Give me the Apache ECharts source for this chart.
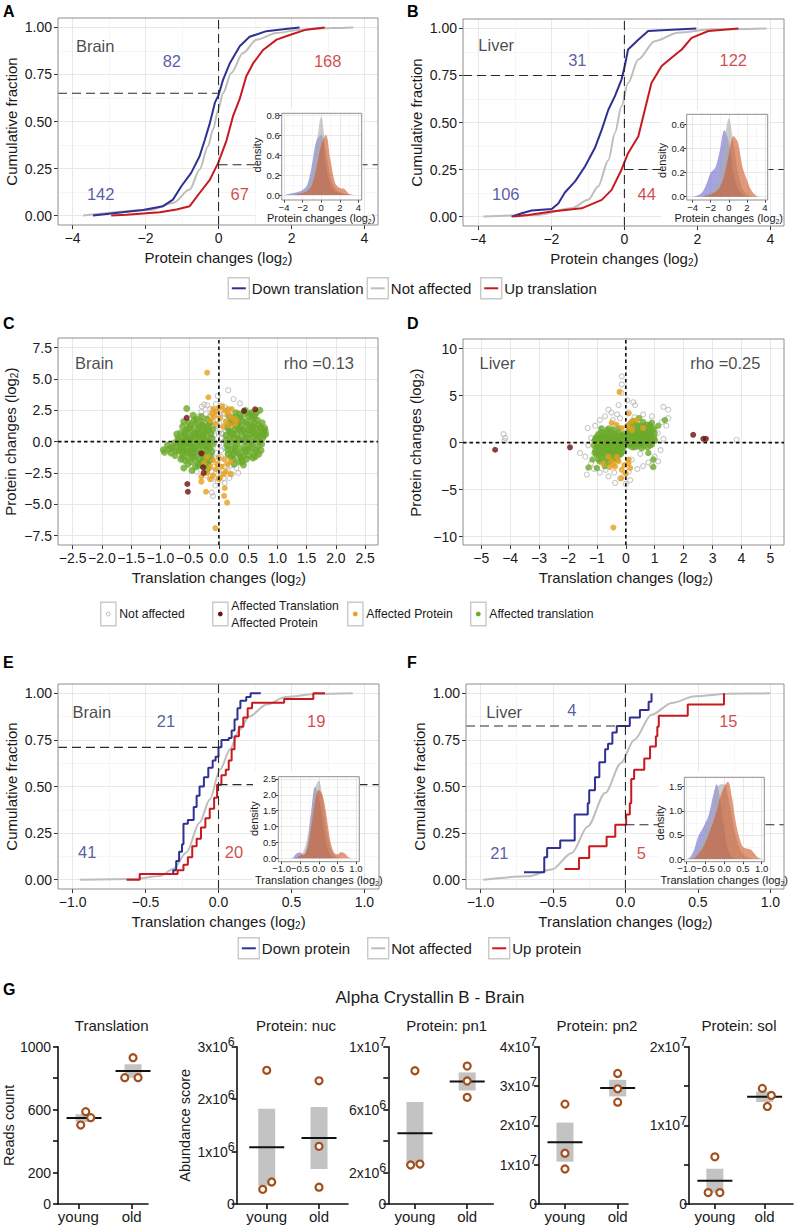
<!DOCTYPE html>
<html><head><meta charset="utf-8">
<script src="https://cdn.jsdelivr.net/npm/echarts@6/dist/echarts.min.js"></script>
<style>html,body{margin:0;padding:0;background:#fff}#c{width:794px;height:1227px}</style>
</head><body><div id="c"></div><script>
// ======================= DATA =======================
// Panel A (Brain) : cumulative fraction of protein changes (log2), [x, fraction]
const aDownTranslation = [[-3.44,0],[-2.07,0.03],[-1.52,0.05],[-1.25,0.085],[-1.02,0.156],[-0.75,0.227],[-0.52,0.315],[-0.38,0.40],[-0.24,0.49],[-0.10,0.60],[0.0,0.64],[0.12,0.72],[0.31,0.81],[0.58,0.90],[0.85,0.95],[1.31,0.98],[1.77,0.99],[2.22,1.0]];
const aNotAffected = [[-3.71,0],[-1.88,0.03],[-1.25,0.067],[-0.79,0.138],[-0.52,0.244],[-0.29,0.368],[-0.15,0.457],[-0.01,0.563],[0.12,0.65],[0.35,0.758],[0.67,0.864],[1.04,0.935],[1.59,0.97],[2.22,0.988],[3.14,0.997],[3.69,1.0]];
const aUpTranslation = [[-2.94,0],[-2.52,0.005],[-1.61,0.018],[-1.15,0.032],[-0.79,0.05],[-0.52,0.12],[-0.24,0.19],[-0.01,0.28],[0.22,0.40],[0.40,0.53],[0.58,0.62],[0.76,0.74],[0.95,0.81],[1.22,0.88],[1.59,0.935],[1.95,0.96],[2.40,0.988],[2.91,1.0]];
const aCounts = [142, 82, 67, 168];          // down<0, down>0, up<0, up>0
const aFractionAtZero = [0.65, 0.27];        // down, up
const aDensityDown = [[-4,0],[-3.5,0.01],[-3,0.02],[-2.5,0.03],[-2,0.05],[-1.5,0.1],[-1,0.3],[-0.5,0.55],[0,0.6],[0.5,0.3],[1,0.1],[1.5,0.04],[2,0.02],[2.5,0.01],[3,0]];
const aDensityNot = [[-3.7,0],[-3,0.005],[-2.5,0.01],[-2,0.03],[-1.5,0.07],[-1,0.2],[-0.5,0.5],[0,0.78],[0.5,0.45],[1,0.18],[1.5,0.07],[2,0.03],[2.5,0.01],[3,0.005],[3.7,0]];
const aDensityUp = [[-3,0],[-2.5,0.01],[-2,0.02],[-1.5,0.04],[-1,0.1],[-0.5,0.28],[0,0.5],[0.5,0.6],[1,0.35],[1.5,0.12],[2,0.07],[2.5,0.06],[3,0.01],[3.5,0]];

// Panel B (Liver)
const bDownTranslation = [[-3.09,0],[-2.81,0.018],[-2.54,0.032],[-1.99,0.04],[-1.81,0.07],[-1.63,0.128],[-1.35,0.187],[-1.08,0.266],[-0.81,0.364],[-0.62,0.462],[-0.44,0.568],[-0.26,0.64],[-0.08,0.728],[0.01,0.80],[0.10,0.888],[0.38,0.94],[0.65,0.986],[1.02,0.99],[1.97,1.0]];
const bNotAffected = [[-3.86,0],[-2.36,0.009],[-1.45,0.044],[-0.99,0.089],[-0.72,0.16],[-0.44,0.30],[-0.26,0.444],[-0.08,0.586],[0.10,0.71],[0.38,0.835],[0.83,0.932],[1.47,0.977],[2.39,0.995],[3.89,1.0]];
const bUpTranslation = [[-3.04,0],[-2.63,0.009],[-1.99,0.027],[-1.17,0.044],[-0.62,0.089],[-0.35,0.142],[-0.08,0.249],[0.10,0.337],[0.38,0.426],[0.56,0.568],[0.74,0.71],[1.02,0.80],[1.29,0.844],[1.57,0.888],[1.84,0.95],[2.30,0.986],[3.12,1.0]];
const bCounts = [106, 31, 44, 122];
const bFractionAtZero = [0.75, 0.25];
const bDensityDown = [[-4,0],[-3.5,0.01],[-3,0.03],[-2.5,0.1],[-2,0.2],[-1.5,0.24],[-1,0.38],[-0.5,0.55],[0,0.45],[0.5,0.2],[1,0.07],[1.5,0.02],[2,0]];
const bDensityNot = [[-3,0],[-2.5,0.01],[-2,0.03],[-1.5,0.08],[-1,0.2],[-0.5,0.45],[0,0.65],[0.5,0.45],[1,0.2],[1.5,0.07],[2,0.02],[2.5,0.005],[3,0]];
const bDensityUp = [[-3,0],[-2.5,0.01],[-2,0.02],[-1.5,0.04],[-1,0.08],[-0.5,0.18],[0,0.35],[0.5,0.5],[1,0.45],[1.5,0.25],[2,0.14],[2.5,0.05],[3,0.01],[3.5,0],[4,0]];

// Panel C (Brain) : [translation change, protein change]
const cNotAffected = [[-0.02,3.64],[0.16,4.1],[0.25,3.4],[0.36,3.05],[-0.29,2.8],[-0.43,1.73],[-0.12,-4.07],[-0.1,-4.35],[0.62,-0.66],[0.66,-0.85],[-0.25,2.95],[-0.2,2.9],[-0.15,2.6],[-0.05,3.0],[0.05,2.9],[0.1,2.75],[0.2,2.5],[-0.3,2.4],[-0.35,2.0],[-0.22,2.2],[-0.1,2.3],[0.0,2.2],[0.15,2.1],[0.28,2.0],[0.35,1.6],[-0.28,1.5],[-0.18,1.7],[-0.05,1.8],[0.08,1.6],[0.22,1.4],[-0.12,1.2],[0.02,1.0],[0.12,0.8],[-0.2,0.9],[-0.08,0.5],[0.05,0.3],[0.18,0.2],[-0.15,0.0],[0.0,-0.2],[0.1,-0.5],[-0.22,-0.6],[-0.05,-0.9],[0.15,-1.0],[0.25,-1.3],[-0.25,-1.2],[-0.12,-1.5],[0.05,-1.7],[0.2,-1.9],[-0.3,-1.9],[-0.18,-2.2],[0.0,-2.4],[0.15,-2.3],[0.3,-2.1],[-0.08,-2.8],[0.08,-2.9],[-0.22,-2.7],[0.22,-2.6],[-0.02,-3.2],[0.1,-3.3],[-0.12,-3.0],[0.4,-1.6],[0.45,1.2],[-0.4,-1.5],[0.5,-1.1],[0.33,-2.5],[-0.38,-2.4],[-0.08,0.0],[0.06,0.6],[-0.1,-0.4],[0.1,0.1],[-0.03,1.3],[0.03,-1.2],[0.08,2.3],[-0.08,-2.0],[0.12,-0.1],[-0.13,0.7],
  [-0.05,2.5],[0.1,2.2],[-0.15,2.0],[0.18,1.8],[-0.1,1.6],[0.14,1.1],[-0.18,1.0],[0.0,0.7],[-0.12,0.2],[0.16,-0.3],[-0.2,-0.3],[0.04,-0.7],[-0.15,-1.0],[0.2,-1.2],[-0.04,-1.4],[0.1,-2.0],[-0.2,-1.7],[0.04,-2.6],[-0.13,-2.4],[0.18,-2.9],[-0.06,-3.5],[0.25,0.5],[-0.25,0.4],[0.27,-0.8]];
const cAffectedBoth = [[-0.55,1.9],[-0.3,-0.93],[-0.27,-2.05],[-0.26,-2.5],[-0.54,-3.38],[-0.53,-4.0],[0.43,2.45],[0.62,2.58]];
const cAffectedProtein = [[-0.2,5.5],[-0.18,3.54],[-0.1,2.6],[-0.05,2.4],[0.0,2.7],[0.05,2.8],[0.1,2.5],[0.15,2.2],[0.2,2.0],[0.25,1.8],[-0.08,2.0],[0.02,1.9],[0.12,1.6],[0.18,1.3],[-0.15,1.7],[-0.05,1.4],[0.07,1.2],[0.22,2.6],[0.28,1.4],[-0.12,2.2],[0.3,1.7],[0.16,2.6],[-0.3,-2.8],[-0.3,-3.2],[-0.22,-4.0],[-0.06,-6.9],[0.09,-4.33],[0.14,-4.87],[0.1,-3.7],[0.2,-2.6],[-0.2,-1.2],[-0.1,-1.5],[0.0,-1.3],[0.1,-1.4],[0.15,-1.8],[-0.15,-2.0],[-0.05,-2.2],[0.05,-2.0],[0.12,-2.4],[-0.2,-2.5],[-0.1,-2.7],[0.02,-2.9],[0.08,-2.6],[-0.25,-1.7],[0.2,-1.6],[-0.02,-1.8],[0.0,-3.0],[-0.15,-3.0]];
const cAffectedTranslation = [[-0.95,-0.65],[-0.93,-0.85],[-0.8,-0.4],[-0.72,-0.75],[-0.7,-0.2],[-0.68,0.1],[-0.65,-0.5],[-0.62,-1.0],[-0.6,0.4],[-0.6,-2.1],[-0.58,-0.2],[-0.57,0.8],[-0.55,2.65],[-0.55,-0.8],[-0.53,0.1],[-0.52,-1.3],[-0.5,0.5],[-0.5,1.1],[-0.48,-0.4],[-0.47,-1.6],[-0.46,-2.3],[-0.45,0.9],[-0.44,2.1],[-0.43,-0.9],[-0.42,0.2],[-0.4,1.4],[-0.4,-1.2],[-0.38,0.6],[-0.37,-0.2],[-0.36,-1.7],[-0.35,1.0],[-0.33,-0.6],[-0.32,0.3],[-0.3,1.6],[-0.3,-1.0],[-0.28,0.0],[-0.27,0.8],[-0.26,-1.4],[-0.25,-0.4],[-0.24,1.2],[-0.22,0.4],[-0.21,-0.8],[-0.2,1.8],[-0.19,-1.8],[-0.18,0.0],[-0.17,0.9],[-0.16,-0.5],[-0.15,1.5],[-0.14,-1.2],[-0.12,0.3],[-0.11,-0.2],[-0.65,0.7],[-0.58,-1.5],[-0.62,1.2],[-0.5,-0.1],[-0.42,-0.5],[-0.35,0.0],[-0.45,0.4],[-0.55,0.3],[-0.68,-0.7],[-0.75,-0.1],[-0.75,-1.1],[-0.85,-0.6],[-0.4,-2.0],[-0.3,2.0],[-0.6,1.6],[-0.65,-1.4],[-0.52,1.5],[-0.33,-1.4],[-0.47,-1.0],[-0.58,0.0],[-0.38,1.8],[-0.25,-1.8],[-0.2,-2.2],
  [-0.7,0.3],[-0.66,-0.3],[-0.63,0.0],[-0.61,-0.7],[-0.59,0.6],[-0.56,-0.5],[-0.54,1.0],[-0.51,-0.9],[-0.49,0.2],[-0.46,-0.2],[-0.44,-1.3],[-0.41,0.7],[-0.39,-0.8],[-0.36,0.4],[-0.34,1.2],[-0.31,-0.3],[-0.29,-1.6],[-0.27,0.5],[-0.24,-1.0],[-0.22,0.9],[-0.2,-0.4],[-0.18,1.3],[-0.16,-1.5],[-0.14,0.6],[-0.12,-0.8],[-0.1,1.0],[-0.72,0.6],[-0.78,-0.5],[-0.82,-0.9],[-0.88,-0.3],[-0.62,-1.2],[-0.48,1.3],[-0.35,-1.9],[-0.28,1.3],[-0.53,-1.8],[-0.42,1.7],[-0.57,-0.1],[-0.45,-0.6],[-0.33,0.7],[-0.23,0.1],
  [0.12,0.5],[0.14,-0.3],[0.15,1.2],[0.16,-1.0],[0.18,2.0],[0.2,0.0],[0.2,0.8],[0.22,-0.6],[0.23,1.6],[0.25,-1.4],[0.26,0.3],[0.28,1.0],[0.29,2.3],[0.3,-0.2],[0.31,0.6],[0.32,-0.9],[0.33,1.4],[0.35,-1.6],[0.35,0.1],[0.36,1.9],[0.37,0.9],[0.38,-0.5],[0.4,0.4],[0.4,1.3],[0.41,-1.2],[0.42,-1.86],[0.43,2.2],[0.44,0.0],[0.45,0.7],[0.46,-0.8],[0.47,1.6],[0.48,-0.3],[0.5,1.0],[0.5,0.3],[0.51,2.0],[0.52,-1.1],[0.53,0.6],[0.55,1.3],[0.55,-0.5],[0.56,0.0],[0.57,1.8],[0.58,0.8],[0.6,-0.9],[0.6,0.4],[0.61,1.5],[0.62,-1.2],[0.63,1.0],[0.64,2.3],[0.65,0.2],[0.66,-0.4],[0.67,0.7],[0.68,1.3],[0.7,2.5],[0.7,0.0],[0.71,0.5],[0.72,-0.7],[0.73,1.0],[0.75,0.3],[0.76,0.8],[0.78,1.1],[0.79,0.9],[0.8,0.6],[0.3,1.7],[0.45,2.5],[0.24,-1.0],[0.38,-1.3],[0.55,2.3],[0.68,-1.0],[0.28,-0.7],[0.6,1.9],[0.74,1.5],
  [0.13,0.1],[0.15,-0.6],[0.17,0.9],[0.19,1.5],[0.21,-1.2],[0.24,0.6],[0.27,-0.4],[0.29,1.3],[0.33,0.2],[0.34,1.0],[0.36,-1.1],[0.39,1.7],[0.42,0.9],[0.43,-0.7],[0.46,0.3],[0.49,1.4],[0.5,-0.6],[0.53,2.2],[0.54,0.9],[0.57,-0.2],[0.59,1.2],[0.62,0.6],[0.64,-0.7],[0.66,1.7],[0.69,0.4],[0.71,1.1],[0.73,-0.2],[0.77,0.5],[0.25,1.9],[0.4,-1.6],[0.2,0.5],[0.47,-1.4],[0.61,2.1],[0.35,2.2],[0.58,-1.3],[0.26,-1.8]];
const cRho = 0.13;

// Panel D (Liver)
const dNotAffected = [[-4.23,0.9],[-4.17,0.5],[-4.2,0.2],[3.83,0.3],[-1.58,-1.1],[-1.35,-3.4],[-1.06,1.8],[-0.14,7.05],[-0.14,6.2],[0.26,4.3],[0.32,4.0],[1.3,3.8],[1.47,3.5],[1.47,2.6],[1.12,-2.0],[0.78,-2.1],[-0.37,-4.3],[0.0,-4.4],[-1.32,1.55],[-0.6,3.5],[-0.72,2.8],[-0.5,3.2],[-0.3,3.0],[-0.2,2.6],[0.1,3.2],[-0.9,2.4],[-1.2,0.5],[-1.3,-0.3],[-1.4,-1.5],[-1.2,-2.2],[-0.9,-3.2],[-0.6,-3.6],[-0.4,-3.2],[-0.2,-3.8],[0.1,-3.1],[0.4,-2.8],[0.6,-2.5],[1.0,-1.5],[1.2,-0.8],[1.3,0.4],[1.1,1.0],[0.9,2.8],[0.6,3.0],[0.3,2.7],[-0.8,1.5],[-0.4,1.8],[0.0,1.5],[0.2,-1.8],[-0.6,-2.0],[-1.0,-1.2],[-0.3,0.4],[0.5,-1.2],[-0.15,5.3],[0.05,4.5],[-0.25,4.0],[-0.9,0.9],[1.4,1.8],[0.9,-2.4],[-0.7,-2.9],[-1.1,-2.8],[1.25,2.2],[-0.45,2.4],[0.15,-4.0],[-0.05,-3.5]];
const dAffectedBoth = [[-4.52,-0.76],[-1.93,-0.5],[2.33,0.83],[2.68,0.4],[2.77,0.4]];
const dAffectedProtein = [[-0.22,5.4],[-0.43,-9.05],[-0.49,2.1],[-0.32,1.9],[0.09,3.1],[0.2,2.25],[0.14,1.55],[0.37,2.4],[0.6,1.55],[-0.14,1.55],[0.05,1.8],[0.22,1.3],[-0.78,-2.25],[-0.49,-2.0],[-0.43,-2.3],[-0.37,-2.55],[-0.32,-1.5],[-0.14,-2.9],[-0.16,-3.8],[0.0,-3.3],[0.09,-2.2],[0.1,-1.8],[-0.6,-1.5],[-0.25,-2.0],[-0.55,-2.6],[0.15,-2.7],[-0.05,-2.4]];
const dAffectedTranslation = [[-1.1,-0.3],[-1.08,0.2],[-1.05,-0.8],[-1.02,0.6],[-1.0,-1.3],[-0.98,-0.1],[-0.95,0.9],[-0.93,-0.6],[-0.9,0.3],[-0.88,-1.0],[-0.85,-0.3],[-0.83,0.7],[-0.8,-1.5],[-0.78,0.0],[-0.76,-0.7],[-0.74,0.4],[-0.72,1.0],[-0.7,-1.1],[-0.68,-0.2],[-0.66,0.6],[-0.64,-1.6],[-0.62,0.1],[-0.6,-0.5],[-0.58,0.9],[-0.56,-0.9],[-0.54,0.3],[-0.52,-0.3],[-0.5,1.2],[-0.48,-1.2],[-0.46,0.0],[-0.44,0.6],[-0.42,-0.6],[-0.4,-1.6],[-0.38,0.2],[-0.36,0.9],[-0.34,-0.2],[-0.32,-1.0],[-0.3,0.5],[-0.28,-0.5],[-0.26,1.1],[-0.24,0.0],[-0.22,-1.3],[-0.2,0.4],[-0.18,-0.7],[-0.16,0.8],[-0.14,-0.1],[-0.12,-1.0],[-0.1,0.3],[-0.08,-0.4],[-0.06,0.7],[-1.29,-2.65],[-1.0,-2.7],[-0.72,-2.5],[-0.9,-2.0],[-0.6,-2.1],[-1.15,-1.8],[-0.85,1.5],[-0.6,1.5],
  [-1.05,0.4],[-1.0,-0.5],[-0.97,0.5],[-0.92,-1.3],[-0.9,-0.6],[-0.87,0.5],[-0.82,-1.2],[-0.8,0.2],[-0.77,-0.4],[-0.73,0.7],[-0.7,-0.7],[-0.67,0.3],[-0.63,-1.0],[-0.61,0.7],[-0.57,-0.2],[-0.55,-1.3],[-0.53,0.6],[-0.49,-0.7],[-0.47,0.3],[-0.43,-1.1],[-0.41,0.9],[-0.37,-0.4],[-0.35,0.4],[-0.31,-1.3],[-0.29,0.1],[-0.27,-0.8],[-0.23,0.7],[-0.21,-0.3],[-0.17,-1.2],[-0.15,0.4],[-0.11,-0.6],[-0.09,0.9],[-0.05,-0.1],[-0.95,-1.8],[-0.75,-1.9],[-0.5,-1.8],[-0.3,-1.8],[-0.65,1.3],[-0.45,1.4],[-0.25,1.5],[-1.08,-1.1],[-0.85,1.1],
  [0.05,0.2],[0.08,1.0],[0.1,-0.3],[0.12,0.6],[0.15,1.6],[0.18,0.0],[0.2,0.9],[0.22,-0.5],[0.25,0.4],[0.28,1.3],[0.3,2.0],[0.32,-0.1],[0.35,0.7],[0.38,1.5],[0.4,0.2],[0.42,-0.4],[0.45,1.0],[0.46,2.6],[0.48,0.5],[0.5,1.8],[0.52,0.0],[0.55,1.2],[0.58,0.4],[0.6,2.2],[0.62,-0.3],[0.65,0.8],[0.68,1.5],[0.7,0.1],[0.72,1.9],[0.75,0.6],[0.78,-1.1],[0.8,1.2],[0.82,0.3],[0.85,1.7],[0.88,0.8],[0.9,-0.2],[0.92,1.3],[0.95,-1.8],[0.95,-2.6],[0.98,0.5],[1.0,1.0],[1.12,1.8],[1.35,2.4],[0.25,2.3],[0.9,2.1],[1.02,0.2],
  [0.04,0.7],[0.07,-0.1],[0.1,1.3],[0.13,0.3],[0.17,-0.2],[0.19,1.2],[0.23,0.7],[0.26,0.0],[0.29,0.9],[0.33,0.4],[0.36,1.1],[0.39,-0.2],[0.43,0.6],[0.47,1.4],[0.5,0.2],[0.53,0.9],[0.56,-0.1],[0.6,1.0],[0.63,0.3],[0.66,1.2],[0.7,0.6],[0.74,1.3],[0.77,0.2],[0.8,0.8],[0.84,-0.3],[0.87,1.1],[0.92,0.4],[0.97,1.5],[0.15,2.0],[0.4,1.9],[0.62,1.8],[0.82,1.9],[0.3,-0.5],[0.55,-0.6],[0.75,-0.5]];
const dRho = 0.25;

// Panel E (Brain) : cumulative fraction of translation changes
const eDownProtein = [[-0.54,0.03],[-0.31,0.05],[-0.29,0.10],[-0.27,0.15],[-0.25,0.19],[-0.24,0.30],[-0.21,0.32],[-0.17,0.39],[-0.15,0.45],[-0.13,0.50],[-0.10,0.55],[-0.07,0.60],[-0.04,0.64],[-0.02,0.66],[0.0,0.71],[0.02,0.75],[0.07,0.76],[0.09,0.80],[0.11,0.86],[0.13,0.92],[0.15,0.96],[0.19,0.98],[0.22,1.0],[0.29,1.0]];
const eNotAffected = [[-0.95,0],[-0.58,0.004],[-0.40,0.02],[-0.31,0.057],[-0.22,0.146],[-0.13,0.306],[-0.06,0.43],[0.01,0.59],[0.08,0.70],[0.14,0.80],[0.21,0.875],[0.33,0.94],[0.46,0.98],[0.67,0.996],[0.92,1.0]];
const eUpProtein = [[-0.63,0.0],[-0.54,0.03],[-0.28,0.05],[-0.24,0.08],[-0.21,0.12],[-0.18,0.18],[-0.15,0.22],[-0.12,0.28],[-0.09,0.33],[-0.06,0.38],[-0.03,0.44],[-0.01,0.51],[0.02,0.56],[0.05,0.59],[0.07,0.64],[0.09,0.70],[0.11,0.77],[0.14,0.82],[0.17,0.87],[0.20,0.92],[0.23,0.95],[0.45,0.97],[0.65,1.0],[0.73,1.0]];
const eCounts = [41, 21, 20, 19];
const eFractionAtZero = [0.71, 0.51];
const eDensityDown = [[-1,0],[-0.8,0],[-0.7,0.02],[-0.6,0.15],[-0.5,0.18],[-0.4,0.1],[-0.3,0.5],[-0.2,1.5],[-0.1,2.25],[0,1.9],[0.1,1.2],[0.2,0.45],[0.3,0.1],[0.4,0.02],[0.5,0]];
const eDensityNot = [[-0.8,0],[-0.7,0.01],[-0.6,0.03],[-0.5,0.08],[-0.4,0.25],[-0.3,0.7],[-0.2,1.5],[-0.1,2.2],[0,2.45],[0.1,1.9],[0.2,1.0],[0.3,0.4],[0.4,0.12],[0.5,0.04],[0.6,0.01],[0.7,0]];
const eDensityUp = [[-0.7,0],[-0.6,0.02],[-0.5,0.1],[-0.4,0.12],[-0.3,0.35],[-0.2,1.0],[-0.1,1.8],[0,2.15],[0.1,2.0],[0.2,1.4],[0.3,0.6],[0.4,0.2],[0.5,0.12],[0.6,0.2],[0.7,0.15],[0.8,0.03],[0.9,0]];

// Panel F (Liver)
const fDownProtein = [[-0.70,0.04],[-0.56,0.12],[-0.54,0.17],[-0.45,0.21],[-0.35,0.35],[-0.26,0.41],[-0.25,0.48],[-0.21,0.55],[-0.18,0.63],[-0.14,0.70],[-0.12,0.73],[-0.09,0.79],[-0.06,0.825],[0.03,0.87],[0.10,0.91],[0.16,0.955],[0.18,1.0]];
const fNotAffected = [[-0.98,0],[-0.67,0.018],[-0.51,0.054],[-0.37,0.143],[-0.26,0.286],[-0.14,0.465],[-0.03,0.626],[0.06,0.75],[0.18,0.885],[0.32,0.948],[0.48,0.984],[0.71,0.998],[1.0,1.0]];
const fUpProtein = [[-0.42,0.057],[-0.32,0.116],[-0.25,0.18],[-0.13,0.23],[-0.07,0.295],[0.005,0.35],[0.03,0.41],[0.04,0.54],[0.06,0.59],[0.13,0.65],[0.17,0.715],[0.21,0.77],[0.22,0.82],[0.23,0.88],[0.43,0.94],[0.68,1.0]];
const fCounts = [21, 4, 5, 15];
const fFractionAtZero = [0.825, 0.295];
const fDensityDown = [[-1,0],[-0.9,0.05],[-0.8,0.2],[-0.7,0.45],[-0.6,0.6],[-0.5,0.75],[-0.4,0.95],[-0.3,1.3],[-0.2,1.55],[-0.1,1.2],[0,0.6],[0.1,0.2],[0.2,0.05],[0.3,0]];
const fDensityNot = [[-1,0],[-0.9,0.02],[-0.8,0.08],[-0.7,0.2],[-0.6,0.35],[-0.5,0.55],[-0.4,0.8],[-0.3,1.1],[-0.2,1.4],[-0.1,1.55],[0,1.55],[0.1,1.3],[0.2,0.9],[0.3,0.5],[0.4,0.25],[0.5,0.1],[0.6,0.05],[0.7,0.02],[0.8,0]];
const fDensityUp = [[-0.9,0],[-0.8,0.02],[-0.7,0.1],[-0.6,0.2],[-0.5,0.35],[-0.4,0.55],[-0.3,0.75],[-0.2,1.0],[-0.1,1.3],[0,1.5],[0.1,1.6],[0.2,1.3],[0.3,0.8],[0.4,0.45],[0.5,0.25],[0.6,0.22],[0.7,0.2],[0.8,0.12],[0.9,0.03],[1,0]];

// Panel G : Alpha Crystallin B - Brain (three replicates per group)
const gGroups = ['young', 'old'];
const gTranslationYoung = [502, 587, 549],  gTranslationOld = [803, 930, 803];
const gNucYoung = [0.28e6, 2.55e6, 0.42e6], gNucOld = [2.35e6, 1.10e6, 0.32e6];
const gPn1Young = [2.48e6, 8.47e6, 2.54e6], gPn1Old = [8.77e6, 7.82e6, 6.78e6];
const gPn2Young = [2.54e7, 1.29e7, 0.89e7], gPn2Old = [3.32e7, 2.93e7, 2.59e7];
const gSolYoung = [0.145e7, 0.60e7, 0.145e7], gSolOld = [1.47e7, 1.38e7, 1.24e7];
// tick labels shown on the G y axes
const gTranslationTickLabels = [0, 200, 600, 1000];
const gNucTickLabels = [0, 1e6, 2e6, 3e6];
const gPn1TickLabels = [0, 2e6, 6e6, 1e7];
const gPn2TickLabels = [0, 1e7, 2e7, 3e7, 4e7];
const gSolTickLabels = [0, 1e7, 2e7];

// ======================= STYLE / LAYOUT =======================
const FONT = '"Liberation Sans", Arial, Helvetica, sans-serif';
const INK = '#1a1a1a';
const C_DOWN = '#2e3192', C_NOT = '#bdbdbd', C_UP = '#c8191e';
const C_GRAYPT = '#b9b9b9', C_BOTH = '#6e1010', C_PROT = '#e6a01c', C_TRANS = '#6caa2a';
const GRID_MAJ = '#e8e8e8', GRID_MIN = '#f4f4f4', BORDER = '#8e8e8e';
const F_DOWN = 'rgba(105,105,205,0.6)', F_NOT = 'rgba(170,170,170,0.6)', F_UP = 'rgba(205,90,40,0.62)';

const grids = [], xAxes = [], yAxes = [], series = [], graphics = [];
function lin(v, r, a, b) { return a + (v - r[0]) / (r[1] - r[0]) * (b - a); }
function numFmt(d) { return v => (Math.abs(v) < 1e-9 ? 0 : v).toFixed(d).replace('-', '\u2212'); }
function addGrid(g, xa, ya) {
  grids.push(g);
  const i = grids.length - 1;
  xAxes.push(Object.assign({ gridIndex: i }, xa));
  yAxes.push(Object.assign({ gridIndex: i }, ya));
  return i;
}
const hid = (r) => ({ type: 'value', show: false, min: r ? r[0] : 0, max: r ? r[1] : 1 });

function ggPanel(p) {
  const [L, T, R, B] = p.box;
  const z = p.z || 0;
  const ts = { fontFamily: FONT, color: INK, fontSize: p.fs };
  const sub = Math.round(p.nfs * 0.68);
  const nameStyle = { fontFamily: FONT, color: INK, fontSize: p.nfs,
    rich: { s: { fontFamily: FONT, color: INK, fontSize: sub, padding: [Math.round(p.nfs * 0.55), 0, 0, 0] } } };
  const tick = { show: true, length: p.tl, lineStyle: { color: '#333', width: 1 } };
  const x0 = lin(p.xt[0], p.xr, L, R), x1 = lin(p.xt[1], p.xr, L, R);
  addGrid({ left: x0, top: T, width: x1 - x0, height: B - T, z },
    { type: 'value', min: p.xt[0], max: p.xt[1], interval: p.xt[2], z,
      axisLine: { show: false }, axisTick: tick,
      axisLabel: Object.assign({ margin: p.lm, formatter: numFmt(p.xd) }, ts),
      splitLine: { show: true, lineStyle: { color: GRID_MAJ, width: 1 } },
      minorTick: { show: false, splitNumber: 2 },
      minorSplitLine: { show: p.minor, lineStyle: { color: GRID_MIN, width: 0.8 } },
      name: p.xName, nameLocation: 'middle', nameGap: p.xGap, nameTextStyle: nameStyle },
    hid());
  const y0 = lin(p.yt[0], p.yr, B, T), y1 = lin(p.yt[1], p.yr, B, T);
  addGrid({ left: L, top: y1, width: R - L, height: y0 - y1, z },
    hid(),
    { type: 'value', min: p.yt[0], max: p.yt[1], interval: p.yt[2], z,
      axisLine: { show: false }, axisTick: tick,
      axisLabel: Object.assign({ margin: p.lm, formatter: numFmt(p.yd) }, ts),
      splitLine: { show: true, lineStyle: { color: GRID_MAJ, width: 1 } },
      minorTick: { show: false, splitNumber: 2 },
      minorSplitLine: { show: p.minor, lineStyle: { color: GRID_MIN, width: 0.8 } },
      name: p.yName, nameLocation: 'middle', nameGap: p.yGap, nameTextStyle: nameStyle });
  return addGrid({ left: L, top: T, width: R - L, height: B - T, show: true, borderColor: BORDER, borderWidth: 1,
      backgroundColor: 'rgba(0,0,0,0)', z: p.zb || 4 }, hid(p.xr), hid(p.yr));
}
function insetBg(box) {
  addGrid({ left: box[0], top: box[1], width: box[2] - box[0], height: box[3] - box[1], show: true,
    backgroundColor: '#fff', borderWidth: 0, z: 5 }, hid(), hid());
}

function curve(gi, data, color, extra) {
  series.push(Object.assign({ type: 'line', xAxisIndex: gi, yAxisIndex: gi, data, symbol: 'none', silent: true, z: 2,
    lineStyle: { color, width: 2 } }, extra || {}));
}
function dline(gi, data, dash, width, color) {
  series.push({ type: 'line', xAxisIndex: gi, yAxisIndex: gi, data, symbol: 'none', silent: true, z: 3,
    lineStyle: { color, width, type: dash } });
}
function texts(gi, items) {
  series.push({ type: 'scatter', xAxisIndex: gi, yAxisIndex: gi, symbolSize: 0, silent: true, z: 3,
    data: items.map(it => ({ value: it.pos, label: { show: true, position: 'inside', formatter: String(it.text),
      color: it.color || INK, fontSize: it.fs || 16.5, fontFamily: FONT, align: it.align || 'center', verticalAlign: 'middle' } })) });
}
function area(gi, data, fill) {
  series.push({ type: 'line', xAxisIndex: gi, yAxisIndex: gi, data, symbol: 'none', silent: true, z: 8,
    smooth: 0.35, lineStyle: { width: 0 }, areaStyle: { color: fill, opacity: 1 } });
}
function pts(gi, data, kind, size) {
  const st = {
    not: { itemStyle: { color: 'rgba(255,255,255,0)', borderColor: C_GRAYPT, borderWidth: 1.1 }, symbolSize: 5, z: 2 },
    trans: { itemStyle: { color: C_TRANS }, symbolSize: size || 6, z: 3 },
    prot: { itemStyle: { color: C_PROT }, symbolSize: 6, z: 4 },
    both: { itemStyle: { color: C_BOTH }, symbolSize: 6, z: 5 }
  }[kind];
  series.push(Object.assign({ type: 'scatter', xAxisIndex: gi, yAxisIndex: gi, data, symbol: 'circle', silent: true }, st));
}
function gtext(x, y, text, fs, opts) {
  const o = opts || {};
  graphics.push({ type: 'text', x, y, silent: true, z: 10, style: { text, fill: o.color || INK,
    font: (o.bold ? 'bold ' : '') + fs + 'px ' + FONT,
    align: o.align || 'left', verticalAlign: 'middle', textAlign: o.align || 'left', textVerticalAlign: 'middle' } });
}
function lineKey(x, yc, color, label) {
  graphics.push({ type: 'rect', silent: true, shape: { x, y: yc - 10.5, width: 21, height: 21 }, style: { fill: '#fff', stroke: '#c9c9c9', lineWidth: 1.4 } });
  graphics.push({ type: 'line', silent: true, shape: { x1: x + 3.5, y1: yc, x2: x + 17.5, y2: yc }, style: { stroke: color, lineWidth: 2 } });
  gtext(x + 23.5, yc, label, 15);
}
function ptKey(x, kind, lines) {
  graphics.push({ type: 'rect', silent: true, shape: { x, y: 602.3, width: 15.3, height: 23.4 }, style: { fill: '#fff', stroke: '#c9c9c9', lineWidth: 1.4 } });
  const c = { x: x + 7.6, y: 614 };
  if (kind === 'not') graphics.push({ type: 'circle', silent: true, shape: { cx: c.x, cy: c.y, r: 1.9 }, style: { fill: '#fff', stroke: C_GRAYPT, lineWidth: 1 } });
  else graphics.push({ type: 'circle', silent: true, shape: { cx: c.x, cy: c.y, r: 2.4 }, style: { fill: kind === 'both' ? C_BOTH : kind === 'prot' ? C_PROT : C_TRANS } });
  if (lines.length === 1) gtext(x + 18.6, 613.5, lines[0], 12.2);
  else { gtext(x + 18.6, 605.5, lines[0], 12.2); gtext(x + 18.6, 623, lines[1], 12.2); }
}

// ---------- common panel specs ----------
const mainCum = { fs: 14, nfs: 15, tl: 4, lm: 6, xGap: 23, yGap: 39, minor: true, yt: [0, 1, 0.25], yd: 2 };
const insetCum = { fs: 9.5, nfs: 11, tl: 2.5, lm: 2, xGap: 11, yGap: 18, minor: true, z: 6, zb: 9 };

const A = Object.assign({}, mainCum, { box: [58, 18, 378, 225], xr: [-4.4, 4.37], yr: [-0.05, 1.05], xt: [-4, 4, 2], xd: 0,
  xName: 'Protein changes (log{s|2})', yName: 'Cumulative fraction' });
const B = Object.assign({}, mainCum, { box: [463, 19, 784, 226], xr: [-4.42, 4.37], yr: [-0.05, 1.05], xt: [-4, 4, 2], xd: 0,
  xName: 'Protein changes (log{s|2})', yName: 'Cumulative fraction' });
const E = Object.assign({}, mainCum, { box: [58, 684, 379, 889], xr: [-1.1, 1.1], yr: [-0.05, 1.05], xt: [-1, 1, 0.5], xd: 1,
  xName: 'Translation changes (log{s|2})', yName: 'Cumulative fraction' });
const F = Object.assign({}, mainCum, { box: [466, 684, 784, 889], xr: [-1.1, 1.094], yr: [-0.05, 1.05], xt: [-1, 1, 0.5], xd: 1,
  xName: 'Translation changes (log{s|2})', yName: 'Cumulative fraction' });
const Ai = Object.assign({}, insetCum, { box: [281.7, 113.3, 361.7, 200], xr: [-4.25, 4.36], yr: [-0.05, 0.817], xt: [-4, 4, 2], yt: [0, 0.8, 0.2], xd: 0, yd: 1,
  xName: 'Protein changes (log{s|2})', yName: 'density', bg: [256, 109, 362.5, 223] });
const Bi = Object.assign({}, insetCum, { box: [686.7, 114.3, 767.7, 200], xr: [-4.66, 4.3], yr: [-0.028, 0.683], xt: [-4, 4, 2], yt: [0, 0.6, 0.2], xd: 0, yd: 1,
  xName: 'Protein changes (log{s|2})', yName: 'density', bg: [661, 110, 768.5, 224] });
const Ei = Object.assign({}, insetCum, { box: [278.3, 776.7, 359.3, 861.7], xr: [-1.09, 1.09], yr: [-0.107, 2.57], xt: [-1, 1, 0.5], yt: [0, 2.5, 0.5], xd: 1, yd: 1,
  xName: 'Translation changes (log{s|2})', yName: 'density', bg: [253, 772, 360, 887] });
const Fi = Object.assign({}, insetCum, { box: [684.3, 777.3, 764.3, 861.7], xr: [-1.064, 1.069], yr: [-0.055, 1.694], xt: [-1, 1, 0.5], yt: [0, 1.5, 0.5], xd: 1, yd: 1,
  xName: 'Translation changes (log{s|2})', yName: 'density', bg: [659, 772, 765, 887] });

function cumulative(spec, down, not, up, frac, stepped, counts, countPos, tissue, tissuePos) {
  const gi = ggPanel(spec);
  curve(gi, not, C_NOT, { smooth: 0.3, smoothMonotone: 'x' });
  curve(gi, down, C_DOWN, stepped ? { step: 'end' } : {});
  curve(gi, up, C_UP, stepped ? { step: 'end' } : {});
  dline(gi, [[0, spec.yr[0]], [0, spec.yr[1]]], [9, 5], 1.1, '#2a2a2a');
  dline(gi, [[spec.xr[0], frac[0]], [0, frac[0]]], [9, 5], 1.1, '#2a2a2a');
  dline(gi, [[0, frac[1]], [spec.xr[1], frac[1]]], [9, 5], 1.1, '#2a2a2a');
  texts(gi, [
    { pos: tissuePos, text: tissue, align: 'left' },
    { pos: countPos[0], text: counts[0], color: C_DOWN },
    { pos: countPos[1], text: counts[1], color: C_DOWN },
    { pos: countPos[2], text: counts[2], color: C_UP },
    { pos: countPos[3], text: counts[3], color: C_UP }
  ]);
  return gi;
}
function inset(spec, dDown, dNot, dUp) {
  insetBg(spec.bg);
  const gi = ggPanel(spec);
  area(gi, dDown, F_DOWN); area(gi, dNot, F_NOT); area(gi, dUp, F_UP);
}

cumulative(A, aDownTranslation, aNotAffected, aUpTranslation, aFractionAtZero, false, aCounts,
  [[-3.23, 0.117], [-1.28, 0.82], [0.58, 0.117], [2.99, 0.82]], 'Brain', [-3.91, 0.9]);
inset(Ai, aDensityDown, aDensityNot, aDensityUp);
cumulative(B, bDownTranslation, bNotAffected, bUpTranslation, bFractionAtZero, false, bCounts,
  [[-3.25, 0.12], [-1.29, 0.83], [0.61, 0.12], [2.98, 0.83]], 'Liver', [-4.0, 0.91]);
inset(Bi, bDensityDown, bDensityNot, bDensityUp);
cumulative(E, eDownProtein, eNotAffected, eUpProtein, eFractionAtZero, true, eCounts,
  [[-0.90, 0.146], [-0.36, 0.854], [0.106, 0.146], [0.67, 0.854]], 'Brain', [-1.0, 0.9]);
inset(Ei, eDensityDown, eDensityNot, eDensityUp);
cumulative(F, fDownProtein, fNotAffected, fUpProtein, fFractionAtZero, true, fCounts,
  [[-0.87, 0.143], [-0.37, 0.91], [0.11, 0.143], [0.71, 0.85]], 'Liver', [-0.96, 0.9]);
inset(Fi, fDensityDown, fDensityNot, fDensityUp);

// ---------- C, D scatter ----------
const scatSpec = { fs: 14, nfs: 15, tl: 4, lm: 6, xGap: 23, yGap: 39, minor: false,
  xName: 'Translation changes (log{s|2})', yName: 'Protein changes (log{s|2})' };
const C = Object.assign({}, scatSpec, { box: [58, 338, 378, 545], xr: [-2.75, 2.72], yr: [-8.25, 8.27], xt: [-2.5, 2.5, 0.5], yt: [-7.5, 7.5, 2.5], xd: 1, yd: 1 });
const D = Object.assign({}, scatSpec, { box: [463, 339, 784, 545], xr: [-5.63, 5.47], yr: [-10.9, 11.03], xt: [-5, 5, 1], yt: [-10, 10, 5], xd: 0, yd: 0 });
function scatterPanel(spec, notA, both, prot, trans, rho, tissue, tissuePos, rhoPos, greenSize) {
  const gi = ggPanel(spec);
  pts(gi, notA, 'not'); pts(gi, trans, 'trans', greenSize); pts(gi, prot, 'prot'); pts(gi, both, 'both');
  dline(gi, [[spec.xr[0], 0], [spec.xr[1], 0]], [3.5, 3], 1.6, '#111');
  dline(gi, [[0, spec.yr[0]], [0, spec.yr[1]]], [3.5, 3], 1.6, '#111');
  series[series.length - 1].z = 6; series[series.length - 2].z = 6;
  texts(gi, [{ pos: tissuePos, text: tissue, align: 'left' }, { pos: rhoPos, text: 'rho =' + rho.toFixed(2) }]);
}
scatterPanel(C, cNotAffected, cAffectedBoth, cAffectedProtein, cAffectedTranslation, cRho, 'Brain', [-2.46, 6.26], [1.71, 6.26], 7);
scatterPanel(D, dNotAffected, dAffectedBoth, dAffectedProtein, dAffectedTranslation, dRho, 'Liver', [-5.06, 8.48], [3.44, 8.48], 6.5);

// ---------- G ----------
function meanSem(a) {
  const n = a.length, m = a.reduce((s, v) => s + v, 0) / n;
  const sd = Math.sqrt(a.reduce((s, v) => s + (v - m) * (v - m), 0) / (n - 1));
  return [m, sd / Math.sqrt(n)];
}
function sci(v) {
  if (v === 0) return '0';
  const e = Math.floor(Math.log10(v) + 1e-9);
  return '{a|' + Math.round(v / Math.pow(10, e)) + 'x10}{s|' + e + '}';
}
const G_TOP = 1046.7, G_BOT = 1204;
const gAxis = { color: '#111', width: 1.6 };
function gPanel(p) {
  const gi = addGrid({ left: p.ax, top: G_TOP, width: p.xEnd - p.ax, height: G_BOT - G_TOP },
    { type: 'value', min: p.xr[0], max: p.xr[1], axisLine: { show: true, onZero: false, lineStyle: gAxis },
      axisTick: { show: false }, axisLabel: { show: false }, splitLine: { show: false } },
    { type: 'value', min: 0, max: p.ymax, interval: p.yint,
      axisLine: { show: true, onZero: false, lineStyle: gAxis },
      axisTick: { show: true, length: 5, lineStyle: gAxis },
      axisLabel: { fontFamily: FONT, fontSize: 14, color: INK, margin: p.lm,
        formatter: v => p.labels.some(l => Math.abs(l - v) < p.ymax * 1e-6) ? p.fmt(v) : '',
        rich: { a: { fontFamily: FONT, fontSize: 14, color: INK }, s: { fontFamily: FONT, fontSize: 12.5, color: INK, padding: [0, 0, 9, 0] } } },
      splitLine: { show: false },
      name: p.yName || '', nameLocation: 'middle', nameGap: p.nameGap || 30,
      nameTextStyle: { fontFamily: FONT, fontSize: 14.5, color: INK } });
  const x1 = lin(1, p.xr, p.ax, p.xEnd), x2 = lin(2, p.xr, p.ax, p.xEnd);
  addGrid({ left: x1, top: G_TOP, width: x2 - x1, height: G_BOT - G_TOP },
    { type: 'value', min: 1, max: 2, interval: 1, axisLine: { show: false },
      axisTick: { show: true, length: 5, lineStyle: gAxis },
      axisLabel: { fontFamily: FONT, fontSize: 15, color: INK, margin: 5, formatter: v => gGroups[Math.round(v) - 1] },
      splitLine: { show: false } },
    hid());
  const groups = [p.young, p.old];
  const stats = groups.map((g, i) => { const ms = meanSem(g); return [i + 1, ms[0] - ms[1], ms[0] + ms[1], ms[0]]; });
  series.push({ type: 'custom', xAxisIndex: gi, yAxisIndex: gi, data: stats, z: 2, silent: true,
    renderItem: (params, api) => {
      const c = api.coord([api.value(0), api.value(3)]);
      const hi = api.coord([api.value(0), api.value(2)]);
      const lo = api.coord([api.value(0), api.value(1)]);
      return { type: 'group', children: [
        { type: 'rect', shape: { x: c[0] - 8.5, y: hi[1], width: 17, height: lo[1] - hi[1] }, style: { fill: '#c3c3c3' } },
        { type: 'line', shape: { x1: c[0] - 17.5, y1: c[1], x2: c[0] + 17.5, y2: c[1] }, style: { stroke: '#111', lineWidth: 2 } }
      ] };
    } });
  const data = [];
  groups.forEach((g, i) => g.forEach((v, j) => data.push({ value: [i + 1, v], symbolOffset: [p.jit[i][j], 0] })));
  series.push({ type: 'scatter', xAxisIndex: gi, yAxisIndex: gi, data, symbol: 'circle', symbolSize: 7, z: 4, silent: true,
    itemStyle: { color: '#fff', borderColor: '#a24f1c', borderWidth: 2.2, opacity: 1 } });
  gtext((p.ax + p.xEnd) / 2 + (p.tdx || 0), 1025.5, p.title, 15, { align: 'center' });
}
const plain = v => String(v);
gPanel({ ax: 50, xEnd: 148, xr: [0.47, 2.305], ymax: 1000, yint: 200, labels: gTranslationTickLabels, fmt: plain, lm: 7,
  yName: 'Reads count', nameGap: 36, young: gTranslationYoung, old: gTranslationOld, jit: [[-3.3, 1.7, 6.7], [-8.3, 0, 5]], title: 'Translation', tdx: 12.7 });
gPanel({ ax: 236.7, xEnd: 348, xr: [0.426, 2.554], ymax: 3e6, yint: 1e6, labels: gNucTickLabels, fmt: sci, lm: 2,
  yName: 'Abundance score', nameGap: 44, young: gNucYoung, old: gNucOld, jit: [[-4, 0, 5], [0, 0, 0]], title: 'Protein: nuc', tdx: 3.6 });
gPanel({ ax: 388.3, xEnd: 493.3, xr: [0.49, 2.50], ymax: 1e7, yint: 2e6, labels: gPn1TickLabels, fmt: sci, lm: 2,
  young: gPn1Young, old: gPn1Old, jit: [[-4.3, 0, 5], [0, 0, 0]], title: 'Protein: pn1', tdx: 5.9 });
gPanel({ ax: 539, xEnd: 628, xr: [0.507, 2.196], ymax: 4e7, yint: 1e7, labels: gPn2TickLabels, fmt: sci, lm: 2,
  young: gPn2Young, old: gPn2Old, jit: [[0, 0, 0], [0, 0, 0]], title: 'Protein: pn2', tdx: 13.5 });
gPanel({ ax: 689, xEnd: 793, xr: [0.48, 2.57], ymax: 2e7, yint: 0.5e7, labels: gSolTickLabels, fmt: sci, lm: 2,
  young: gSolYoung, old: gSolOld, jit: [[-6.7, 0, 5], [-2.3, 6.7, 2.7]], title: 'Protein: sol', tdx: -2 });

// ---------- legends, letters, titles ----------
lineKey(228.3, 288.3, C_DOWN, 'Down translation');
lineKey(367.3, 288.3, C_NOT, 'Not affected');
lineKey(480.7, 288.3, C_UP, 'Up translation');
lineKey(238.3, 948.3, C_DOWN, 'Down protein');
lineKey(367.7, 948.3, C_NOT, 'Not affected');
lineKey(488.7, 948.3, C_UP, 'Up protein');
ptKey(100.7, 'not', ['Not affected']);
ptKey(212.7, 'both', ['Affected Translation', 'Affected Protein']);
ptKey(347.7, 'prot', ['Affected Protein']);
ptKey(470.7, 'trans', ['Affected translation']);
[['A', 3, 11], ['B', 407, 11], ['C', 3, 323], ['D', 407, 323], ['E', 3, 662], ['F', 407, 662], ['G', 3, 989]]
  .forEach(l => gtext(l[1], l[2], l[0], 16, { bold: true, color: '#000' }));
gtext(430, 997, 'Alpha Crystallin B - Brain', 17, { align: 'center' });

const chart = echarts.init(document.getElementById('c'), null, { renderer: 'svg', width: 794, height: 1227 });
chart.setOption({
  backgroundColor: '#fff',
  animation: false,
  grid: grids, xAxis: xAxes, yAxis: yAxes, series,
  graphic: { elements: graphics }
});
</script></body></html>
